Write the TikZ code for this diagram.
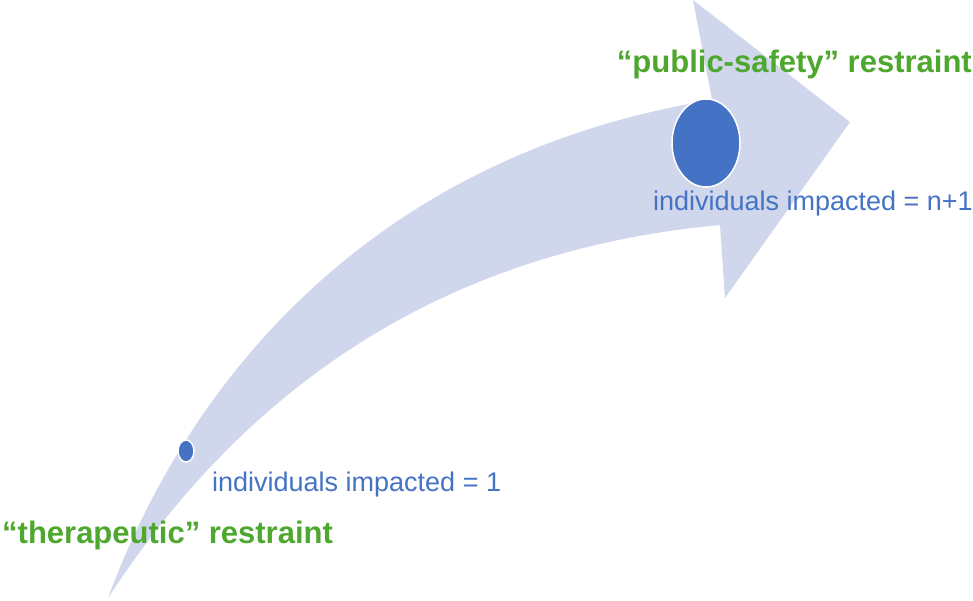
\documentclass[tikz,border=0pt]{standalone}
\usepackage{fontspec}
\setmainfont{Liberation Sans}
\usetikzlibrary{shapes.geometric}
\definecolor{arrowfill}{HTML}{D0D7EC}
\definecolor{dotblue}{HTML}{4472C4}
\definecolor{labelgreen}{HTML}{4EA72E}
\begin{document}
\begin{tikzpicture}[x=1pt,y=-1pt,
    impact/.style ={ellipse, fill=dotblue, draw=white, line width=1.5pt, inner sep=0pt},
    count/.style ={text=dotblue, font=\fontsize{27}{30}\selectfont, inner sep=0pt},
    kind/.style ={text=labelgreen, font=\bfseries\fontsize{31}{34}\selectfont, inner sep=0pt}]
   \useasboundingbox (0,0) rectangle (973,600);
   \fill[arrowfill] (108,598) .. controls (200,350) and (400,150) .. (712,100)
      -- (693,0) -- (850,122) -- (725,298) -- (720,225)
      .. controls (450,250) and (250,380) .. (108,598) -- cycle;

   \node[impact, minimum width=16pt, minimum height=22pt] (A) at (186,451) {};
   \node[impact, minimum width=68pt, minimum height=88pt] (B) at (706,143) {};

   \node[count, anchor=west] (C) at (212,485) {individuals impacted = 1};
   \node[count, anchor=east] (D) at (973,204) {individuals impacted = n+1};
   \node[kind, anchor=west] (E) at (2,535) {“therapeutic” restraint};
   \node[kind, anchor=east] (F) at (972,64) {“public-safety” restraint};
 \end{tikzpicture}
\end{document}
